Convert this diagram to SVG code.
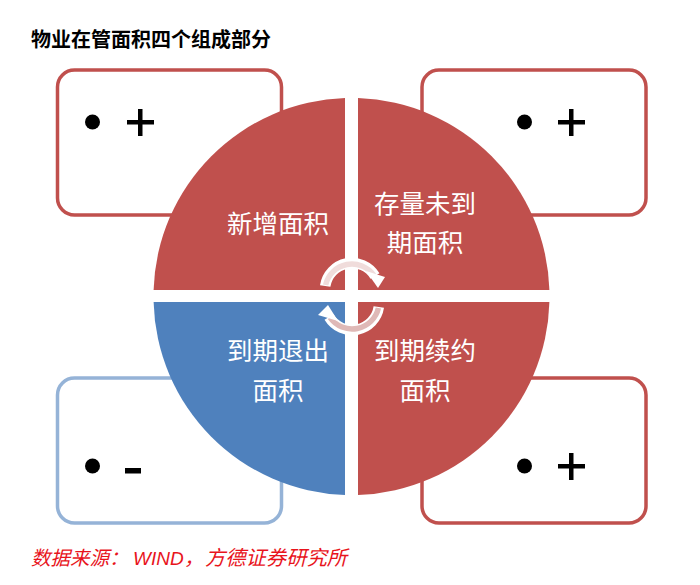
<svg xmlns="http://www.w3.org/2000/svg" width="700" height="585" viewBox="0 0 700 585">
<style>
.box{fill:#fff;stroke-width:3.5}
.red{stroke:#c0504d}
.blue{stroke:#95b3d7}
.q{stroke:none}
.lab{font-family:"Noto Sans CJK SC","Noto Sans",sans-serif;font-size:25.500px;fill:#fff;text-anchor:middle}
.sym{fill:#000}
.arc{fill:none;stroke-linecap:butt}
.arcw{stroke:#fff;stroke-width:10.500}
.arcu{stroke:#f0dcdb;stroke-width:5.500}
.arcl{stroke:#dfb9b7;stroke-width:5.500}
.ah{fill:#fff}
</style>
<rect width="700" height="585" fill="#fff"/>
<text id="title" x="31" y="47" font-family="'Noto Sans CJK SC',sans-serif" font-size="20" font-weight="700" fill="#000">物业在管面积四个组成部分</text>
<g id="box-tl"><rect class="box red" x="57.500" y="70" width="224" height="145" rx="17"/><circle class="sym" cx="92.500" cy="122" r="7.500"/><rect class="sym" x="127" y="120" width="27" height="4.500"/><rect class="sym" x="138" y="109" width="4.500" height="27"/></g>
<g id="box-tr"><rect class="box red" x="422" y="70" width="224" height="145" rx="17"/><circle class="sym" cx="524.500" cy="122" r="7.500"/><rect class="sym" x="558" y="120" width="27" height="4.500"/><rect class="sym" x="569" y="109" width="4.500" height="27"/></g>
<g id="box-bl"><rect class="box blue" x="57.500" y="378" width="224" height="145" rx="17"/><circle class="sym" cx="92.500" cy="466" r="7.500"/><rect class="sym" x="125" y="468" width="16" height="5.500"/></g>
<g id="box-br"><rect class="box red" x="422" y="378" width="224" height="145" rx="17"/><circle class="sym" cx="524.500" cy="466" r="7.500"/><rect class="sym" x="558" y="464" width="27" height="4.500"/><rect class="sym" x="569" y="453" width="4.500" height="27"/></g>
<g id="q-tl"><path class="q" fill="#c0504d" d="M345 290H153.600A198 198 0 0 1 345 98.100Z"/><text class="lab" x="278" y="233">新增面积</text></g>
<g id="q-tr"><path class="q" fill="#c0504d" d="M358 290H549.400A198 198 0 0 0 358 98.100Z"/><text class="lab" x="425" y="213">存量未到</text><text class="lab" x="425" y="252">期面积</text></g>
<g id="q-bl"><path class="q" fill="#4f81bd" d="M345 302H153.600A198 198 0 0 0 345 494.900Z"/><text class="lab" x="278" y="360">到期退出</text><text class="lab" x="278" y="400">面积</text></g>
<g id="q-br"><path class="q" fill="#c0504d" d="M358 302H549.400A198 198 0 0 1 358 494.900Z"/><text class="lab" x="425" y="360">到期续约</text><text class="lab" x="425" y="400">面积</text></g>
<g id="connectors">
<path class="arc arcw" d="M325.200 286A27 27 0 0 1 375 276"/>
<path class="arc arcu" d="M325.600 285A27 27 0 0 1 374 275.500"/>
<polygon class="ah" points="366,271 385,277 378,288"/>
<path class="arc arcw" d="M378.800 307A27 27 0 0 1 329 317"/>
<path class="arc arcl" d="M378.400 308A27 27 0 0 1 330 317.500"/>
<polygon class="ah" points="338,321 318,315 328,305"/>
</g>
<text id="source" y="565" font-family="'Noto Sans CJK SC',sans-serif" font-size="19.500" font-style="italic" fill="#e8141c"><tspan x="31">数据来源：</tspan><tspan x="133" font-family="'Liberation Sans',sans-serif" font-size="19">WIND</tspan><tspan x="184">，</tspan><tspan x="205" font-size="20.300">方德证券研究所</tspan></text>
</svg>
